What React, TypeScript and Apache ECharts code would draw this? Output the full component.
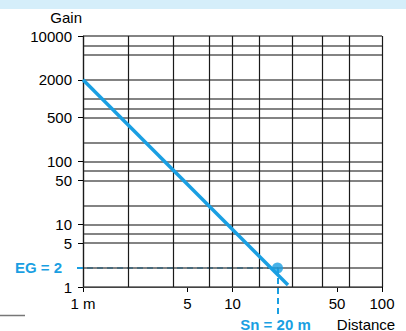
import React, { useEffect, useRef } from 'react';
import * as echarts from 'echarts';

// Tick labels
const xLabelValues = [1, 5, 10, 50, 100];
const yLabelValues = [1, 5, 10, 50, 100, 500, 2000, 10000];
// Grid lines
const xGridValues = [1, 2, 4, 7, 10, 15, 25, 40, 60, 100];
const yGridValues = [1, 2, 5, 7, 10, 20, 50, 70, 100, 200, 500, 700, 1000, 2000, 5000, 7000, 10000];
// Gain curve (distance in m, gain)
const gainDistance = [1, 23.5];
const gainValue = [2000, 1.08];
// Operating point
const snDistance = 20;
const egGain = 2;

const BLUE = '#1a9fe2';
const FONT = 'Liberation Sans, Arial, Helvetica, sans-serif';

export default function App() {
  const ref = useRef<HTMLDivElement>(null);

  useEffect(() => {
    if (!ref.current) return;
    const chart = echarts.init(ref.current, null, { renderer: 'svg' });
    const option: any = {
      animation: false,
      grid: { left: 83, right: 24, top: 36, bottom: 44, containLabel: false },
      xAxis: {
        type: 'log',
        logBase: 10,
        min: 1,
        max: 100,
        axisLine: { show: true, lineStyle: { color: '#000', width: 1.2 } },
        axisTick: { show: true, customValues: xLabelValues, length: 5, lineStyle: { color: '#000' } },
        axisLabel: {
          customValues: xLabelValues,
          margin: 9,
          fontSize: 15,
          fontFamily: FONT,
          color: '#000',
          formatter: (v: number) => (Math.round(v) === 1 ? '1 m' : String(Math.round(v))),
        },
        splitLine: { show: false },
        minorSplitLine: { show: false },
      },
      yAxis: {
        type: 'log',
        logBase: 10,
        min: 1,
        max: 10000,
        axisLine: { show: true, lineStyle: { color: '#000', width: 1.2 } },
        axisTick: { show: true, customValues: yLabelValues, length: 5, lineStyle: { color: '#000' } },
        axisLabel: {
          customValues: yLabelValues,
          margin: 11,
          fontSize: 15,
          fontFamily: FONT,
          color: '#000',
          formatter: (v: number) => String(Math.round(v)),
        },
        splitLine: { show: false },
      },
      series: [
        {
          type: 'line',
          z: 1,
          silent: true,
          data: [[1, 1]],
          showSymbol: false,
          lineStyle: { opacity: 0 },
          markLine: {
            silent: true,
            symbol: ['none', 'none'],
            label: { show: false },
            animation: false,
            lineStyle: { color: '#5a5a5a', width: 1.5, type: 'solid' },
            data: [
              ...yGridValues.map((v) => ({ yAxis: v })),
              ...xGridValues.map((v) => ({ xAxis: v, lineStyle: { color: '#1a1a1a', width: 1.2, type: 'solid' } })),
            ],
          },
        },
        {
          type: 'line',
          z: 5,
          data: gainDistance.map((d, i) => [d, gainValue[i]]),
          showSymbol: false,
          lineStyle: { color: BLUE, width: 3.5 },
        },
        {
          type: 'scatter',
          z: 6,
          data: [[snDistance, egGain]],
          symbolSize: 11,
          itemStyle: { color: BLUE },
        },
      ],
    };
    chart.setOption(option);

    const [px, py] = chart.convertToPixel({ gridIndex: 0 }, [snDistance, egGain]) as number[];
    const [ax, ay] = chart.convertToPixel({ gridIndex: 0 }, [1, 1]) as number[];
    const [rx, ty] = chart.convertToPixel({ gridIndex: 0 }, [100, 10000]) as number[];
    const hy = Math.round(py);
    const vx = Math.round(px);

    chart.setOption({
      graphic: [
        { type: 'rect', z: -1, shape: { x: 0, y: 0, width: 406, height: 9 }, style: { fill: '#d5eefa' } },
        { type: 'line', shape: { x1: 0, y1: 315.5, x2: 25, y2: 315.5 }, style: { stroke: '#777', lineWidth: 1.5 } },
        {
          type: 'line',
          z: 4,
          shape: { x1: ax - 6, y1: hy, x2: vx, y2: hy },
          style: { stroke: BLUE, lineWidth: 2, lineDash: [6, 4] },
        },
        {
          type: 'line',
          z: 4,
          shape: { x1: vx, y1: hy, x2: vx, y2: ay + 31 },
          style: { stroke: BLUE, lineWidth: 2, lineDash: [6, 4] },
        },
        {
          type: 'text',
          x: ax - 21,
          y: py - 1,
          style: {
            text: 'EG = 2',
            fill: BLUE,
            font: `bold 15px ${FONT}`,
            textAlign: 'right',
            textVerticalAlign: 'middle',
          },
        },
        {
          type: 'text',
          x: px - 2,
          y: ay + 37,
          style: {
            text: 'Sn = 20 m',
            fill: BLUE,
            font: `bold 15px ${FONT}`,
            textAlign: 'center',
            textVerticalAlign: 'middle',
          },
        },
        {
          type: 'text',
          x: rx - 16,
          y: ay + 37,
          style: {
            text: 'Distance',
            fill: '#000',
            font: `15px ${FONT}`,
            textAlign: 'center',
            textVerticalAlign: 'middle',
          },
        },
        {
          type: 'text',
          x: ax - 1,
          y: ty - 19,
          style: {
            text: 'Gain',
            fill: '#000',
            font: `15px ${FONT}`,
            textAlign: 'right',
            textVerticalAlign: 'middle',
          },
        },
      ],
    });

    return () => chart.dispose();
  }, []);

  return (
    <div
      ref={ref}
      style={{ position: 'fixed', left: 0, top: 0, width: 406, height: 331, background: '#fff' }}
    />
  );
}
